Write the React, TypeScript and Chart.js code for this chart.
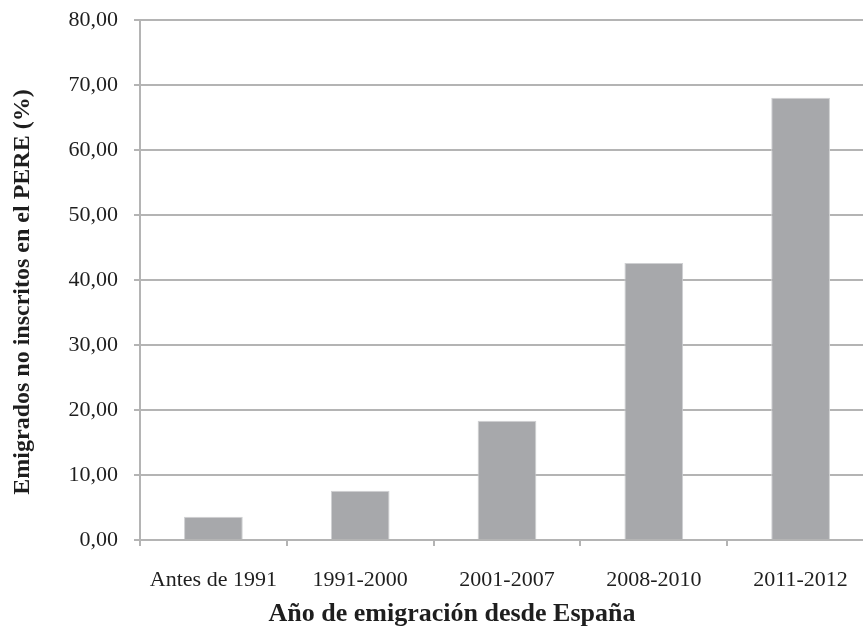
import React, { useEffect, useRef } from "react";
import { Chart, registerables } from "chart.js";

Chart.register(...registerables);

const categories = ["Antes de 1991", "1991-2000", "2001-2007", "2008-2010", "2011-2012"];
const values = [3.58, 7.58, 18.35, 42.6, 68.05];
const yTitle = "Emigrados no inscritos en el PERE (%)";
const xTitle = "Año de emigración desde España";

const FONT = "'Liberation Serif', 'Times New Roman', serif";
const GRID = "#b4b4b4";
const TEXT = "#1e1e1e";

export default function App() {
  const ref = useRef<HTMLCanvasElement | null>(null);

  useEffect(() => {
    if (!ref.current) return;
    const titles = {
      id: "titles",
      afterDraw(chart: any) {
        const ctx = chart.ctx;
        ctx.save();
        ctx.fillStyle = TEXT;
        ctx.textAlign = "center";
        ctx.textBaseline = "middle";
        ctx.font = `bold 26px ${FONT}`;
        ctx.fillText(xTitle, 452, 614);
        ctx.translate(23, 292);
        ctx.rotate(-Math.PI / 2);
        ctx.font = `bold 24px ${FONT}`;
        ctx.fillText(yTitle, 0, 0);
        ctx.restore();
      },
    };
    const chart = new Chart(ref.current, {
      type: "bar",
      data: {
        labels: categories,
        datasets: [
          {
            data: values,
            backgroundColor: "#a7a8ab",
            borderColor: "#cfd0d2",
            borderWidth: 1,
            barPercentage: 0.4,
            categoryPercentage: 1,
          },
        ],
      },
      options: {
        animation: false,
        responsive: false,
        maintainAspectRatio: false,
        layout: { padding: { top: 20, right: 0, left: 0, bottom: 0 } },
        plugins: { legend: { display: false }, tooltip: { enabled: false }, title: { display: false } },
        scales: {
          x: {
            offset: true,
            grid: { drawOnChartArea: false, drawTicks: true, tickLength: 6, offset: true, color: GRID, lineWidth: 2 },
            border: { display: true, color: GRID, width: 2 },
            ticks: { color: TEXT, font: { family: FONT, size: 22 }, padding: 21, maxRotation: 0 },
            afterFit: (s: any) => { s.height = 89; s.paddingLeft = 0; s.paddingRight = 0; },
          },
          y: {
            min: 0,
            max: 80,
            grid: { color: GRID, lineWidth: 2, tickLength: 6, drawTicks: true },
            border: { display: true, color: GRID, width: 2 },
            ticks: {
              stepSize: 10,
              color: TEXT,
              font: { family: FONT, size: 22 },
              padding: 16,
              callback: (v: any) => Number(v).toFixed(2).replace(".", ","),
            },
            afterFit: (s: any) => { s.width = 140; s.paddingTop = 0; s.paddingBottom = 0; },
          },
        },
      },
      plugins: [titles],
    });
    return () => chart.destroy();
  }, []);

  return (
    <div style={{ position: "fixed", left: 0, top: 0, width: 863, height: 629, overflow: "hidden", background: "#fff" }}>
      <canvas ref={ref} width={874} height={629} style={{ display: "block" }} />
    </div>
  );
}
